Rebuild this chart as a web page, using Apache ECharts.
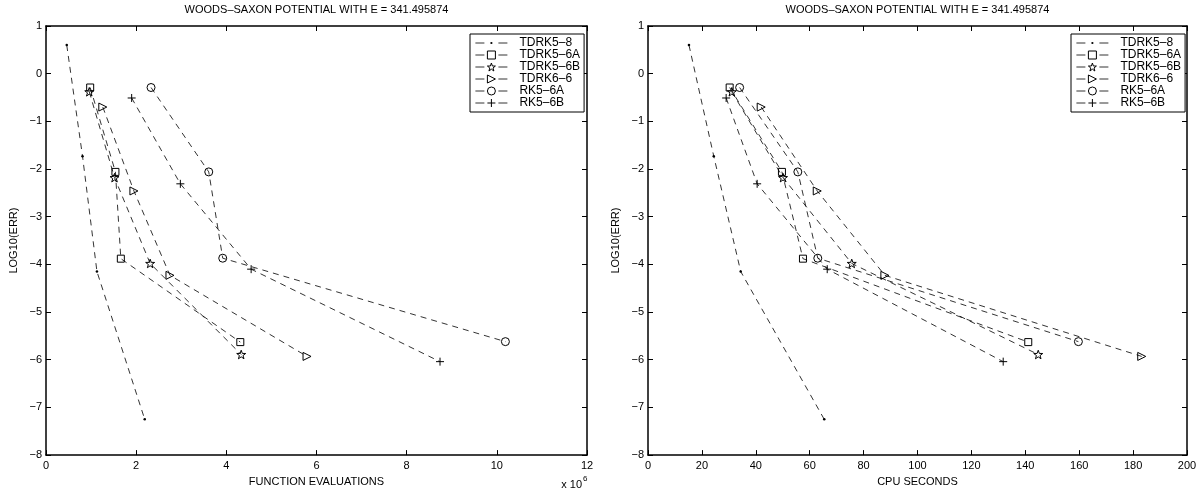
<!DOCTYPE html>
<html><head><meta charset="utf-8">
<script src="https://cdn.jsdelivr.net/npm/echarts@6/dist/echarts.min.js"></script>
<style>html,body{margin:0;padding:0;background:#fff}#c{width:1202px;height:492px}</style>
</head><body><div id="c"></div>
<script>
// ---------------- DATA ----------------
const chartTitle = 'WOODS\u2013SAXON POTENTIAL WITH E = 341.495874';
const seriesNames = ['TDRK5\u20138', 'TDRK5\u20136A', 'TDRK5\u20136B', 'TDRK6\u20136', 'RK5\u20136A', 'RK5\u20136B'];

// log10(error), shared by both panels
const logErr_TDRK58  = [0.60, -1.73, -4.15, -7.25];
const logErr_TDRK56A = [-0.29, -2.06, -3.88, -5.63];
const logErr_TDRK56B = [-0.38, -2.18, -3.98, -5.89];
const logErr_TDRK66  = [-0.70, -2.46, -4.23, -5.93];
const logErr_RK56A   = [-0.29, -2.06, -3.87, -5.62];
const logErr_RK56B   = [-0.51, -2.31, -4.10, -6.04];

// function evaluations (x 10^6)
const fevals_TDRK58  = [0.46, 0.81, 1.13, 2.19];
const fevals_TDRK56A = [0.98, 1.54, 1.66, 4.31];
const fevals_TDRK56B = [0.96, 1.52, 2.31, 4.33];
const fevals_TDRK66  = [1.26, 1.95, 2.75, 5.79];
const fevals_RK56A   = [2.33, 3.61, 3.92, 10.19];
const fevals_RK56B   = [1.90, 2.98, 4.55, 8.74];

// CPU seconds
const cpu_TDRK58  = [15.2, 24.4, 34.4, 65.4];
const cpu_TDRK56A = [30.3, 49.7, 57.5, 141.1];
const cpu_TDRK56B = [31.1, 50.1, 75.6, 144.8];
const cpu_TDRK66  = [42.0, 62.8, 87.9, 183.2];
const cpu_RK56A   = [34.0, 55.6, 63.0, 159.7];
const cpu_RK56B   = [29.0, 40.5, 66.5, 131.8];

const xTicksLeft  = [0, 12, 2];    // min, max, interval
const xTicksRight = [0, 200, 20];
const yTicks      = [-8, 1, 1];

// ---------------- STYLE ----------------
const FONT = 'Liberation Sans, Arial, Helvetica, sans-serif';
const symbols = [
  'path://M0,0M10,10M3.6,5a1.4,1.4 0 1,0 2.8,0a1.4,1.4 0 1,0 -2.8,0',
  'rect',
  'path://M5,0L6.176,3.382L9.755,3.455L6.902,5.618L7.939,9.045L5,7L2.061,9.045L3.098,5.618L0.245,3.455L3.824,3.382Z',
  'path://M0,0L10,5L0,10Z',
  'circle',
  'path://M5,0V10M0,5H10'
];
const symSizes = [9, 7, 9, 8, 8, 8];

const logErr = [logErr_TDRK58, logErr_TDRK56A, logErr_TDRK56B, logErr_TDRK66, logErr_RK56A, logErr_RK56B];
const fevals = [fevals_TDRK58, fevals_TDRK56A, fevals_TDRK56B, fevals_TDRK66, fevals_RK56A, fevals_RK56B];
const cpu = [cpu_TDRK58, cpu_TDRK56A, cpu_TDRK56B, cpu_TDRK66, cpu_RK56A, cpu_RK56B];

const grids = [
  {left: 46, top: 26, width: 541, height: 430},
  {left: 648, top: 26, width: 539, height: 430}
];

function minus(v) { return v < 0 ? '\u2212' + (-v) : String(v); }

function xAx(gi, t, pos, name) {
  return {
    type: 'value', gridIndex: gi, position: pos, min: t[0], max: t[1], interval: t[2],
    axisLine: {show: true, onZero: false, lineStyle: {color: '#000', width: 1.5}},
    axisTick: {show: true, inside: true, length: 5, lineStyle: {color: '#000', width: 1}},
    axisLabel: {show: pos === 'bottom', color: '#000', fontSize: 11, fontFamily: FONT, margin: 5},
    splitLine: {show: false},
    name: pos === 'bottom' ? name : '', nameLocation: 'middle', nameGap: 19,
    nameTextStyle: {color: '#000', fontSize: 11, fontFamily: FONT}
  };
}
function yAx(gi, pos) {
  return {
    type: 'value', gridIndex: gi, position: pos, min: yTicks[0], max: yTicks[1], interval: yTicks[2],
    axisLine: {show: true, onZero: false, lineStyle: {color: '#000', width: 1.5}},
    axisTick: {show: true, inside: true, length: 5, lineStyle: {color: '#000', width: 1}},
    axisLabel: {show: pos === 'left', color: '#000', fontSize: 11, fontFamily: FONT, margin: 4, formatter: minus},
    splitLine: {show: false},
    name: pos === 'left' ? 'LOG10(ERR)' : '', nameLocation: 'middle', nameGap: 27, nameRotate: 90,
    nameTextStyle: {color: '#000', fontSize: 11, fontFamily: FONT}
  };
}

const series = [];
[fevals, cpu].forEach((xs, p) => {
  seriesNames.forEach((nm, i) => {
    series.push({
      type: 'line', name: nm, xAxisIndex: p * 2, yAxisIndex: p * 2,
      data: xs[i].map((x, k) => [x, logErr[i][k]]),
      symbol: symbols[i], symbolSize: symSizes[i], symbolKeepAspect: true,
      showAllSymbol: true,
      lineStyle: {color: '#000', width: 0.8, type: [6, 5]},
      itemStyle: i === 0 ? {color: '#000', borderWidth: 0}
                         : {color: 'rgba(0,0,0,0)', borderColor: '#000', borderWidth: 1},
      emphasis: {disabled: true}, silent: true, animation: false
    });
  });
});

function legend(left) {
  return {
    data: seriesNames, orient: 'vertical', left: left, top: 34,
    backgroundColor: '#fff', borderColor: '#000', borderWidth: 1,
    padding: [3, 4, 3, 5], itemWidth: 32, itemHeight: 10, itemGap: 0,
    lineStyle: {type: [9, 14], width: 0.8, color: '#000'},
    itemStyle: {borderWidth: 1},
    textStyle: {color: '#000', fontSize: 12, fontFamily: FONT, lineHeight: 12, padding: [0, 0, 0, 7]},
    selectedMode: false
  };
}

const chart = echarts.init(document.getElementById('c'), null, {renderer: 'canvas'});
chart.setOption({
  animation: false,
  backgroundColor: '#fff',
  grid: grids,
  xAxis: [xAx(0, xTicksLeft, 'bottom', 'FUNCTION EVALUATIONS'), xAx(0, xTicksLeft, 'top', ''),
          xAx(1, xTicksRight, 'bottom', 'CPU SECONDS'), xAx(1, xTicksRight, 'top', '')],
  yAxis: [yAx(0, 'left'), yAx(0, 'right'), yAx(1, 'left'), yAx(1, 'right')],
  legend: [legend(470), legend(1071)],
  series: series,
  graphic: [
    {type: 'text', x: 46 + 541 / 2, y: 4, style: {text: chartTitle, textAlign: 'center', fill: '#000', font: '11px ' + FONT}},
    {type: 'text', x: 648 + 539 / 2, y: 4, style: {text: chartTitle, textAlign: 'center', fill: '#000', font: '11px ' + FONT}},
    {type: 'text', x: 582, y: 479, style: {text: 'x 10', textAlign: 'right', fill: '#000', font: '11px ' + FONT}},
    {type: 'text', x: 583, y: 475, style: {text: '6', textAlign: 'left', fill: '#000', font: '8px ' + FONT}}
  ]
});
</script>
</body></html>
